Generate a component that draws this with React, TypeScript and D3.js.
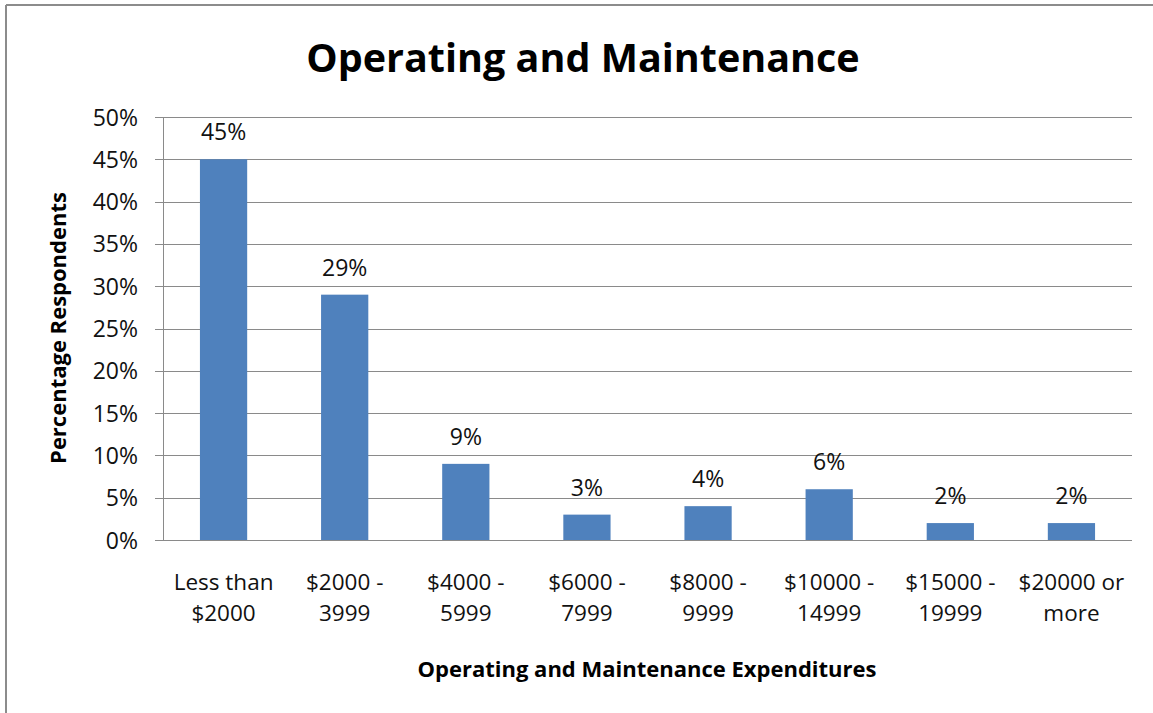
import React from "react";
import * as d3 from "d3";

const categories: string[][] = [
  ["Less than", "$2000"],
  ["$2000 -", "3999"],
  ["$4000 -", "5999"],
  ["$6000 -", "7999"],
  ["$8000 -", "9999"],
  ["$10000 -", "14999"],
  ["$15000 -", "19999"],
  ["$20000 or", "more"],
];
const values: number[] = [45, 29, 9, 3, 4, 6, 2, 2];
const yTicks: number[] = [0, 5, 10, 15, 20, 25, 30, 35, 40, 45, 50];

const W = 1153;
const H = 713;
const plot = { left: 163, right: 1132, top: 117, bottom: 540 };
const FONT = "'Open Sans', 'Noto Sans', sans-serif";

export default function App() {
  const x = d3
    .scaleBand<number>()
    .domain(d3.range(categories.length))
    .range([plot.left, plot.right])
    .paddingInner(0.61)
    .paddingOuter(0.305);
  const y = d3.scaleLinear().domain([0, 50]).range([plot.bottom, plot.top]);
  const step = (plot.right - plot.left) / categories.length;

  return (
    <svg
      width={W}
      height={H}
      style={{ position: "absolute", left: 0, top: 0, background: "#fff" }}
      fontFamily={FONT}
    >
      <rect x={0} y={0} width={W} height={H} fill="#fff" />
      {/* outer frame */}
      <line x1={6} y1={5} x2={W + 5} y2={5} stroke="#8c8c8c" strokeWidth={2} />
      <line x1={6} y1={5} x2={6} y2={H + 5} stroke="#8c8c8c" strokeWidth={2} />

      {/* title */}
      <text
        x={583}
        y={72}
        textAnchor="middle"
        fontSize={39.5}
        fontWeight="bold"
        fill="#000"
      >
        Operating and Maintenance
      </text>

      {/* gridlines and y ticks */}
      {yTicks.map((t) => (
        <g key={t}>
          <line
            x1={plot.left - 8}
            x2={plot.right}
            y1={Math.round(y(t)) + 0.5}
            y2={Math.round(y(t)) + 0.5}
            stroke="#8a8a8a"
            strokeWidth={1}
          />
          <text
            x={138}
            y={y(t) + 8.5}
            textAnchor="end"
            fontSize={23}
            fill="#111"
          >
            {t}%
          </text>
        </g>
      ))}
      {/* y axis line */}
      <line
        x1={plot.left + 0.5}
        x2={plot.left + 0.5}
        y1={plot.top}
        y2={plot.bottom}
        stroke="#8a8a8a"
        strokeWidth={1}
      />

      {/* bars */}
      {values.map((v, i) => (
        <rect
          key={i}
          x={x(i)}
          y={y(v)}
          width={x.bandwidth()}
          height={y(0) - y(v)}
          fill="#4F81BD"
        />
      ))}
      {/* x axis line over bars */}
      <line
        x1={plot.left}
        x2={plot.right}
        y1={plot.bottom + 0.5}
        y2={plot.bottom + 0.5}
        stroke="#8a8a8a"
        strokeWidth={1}
      />

      {/* data labels */}
      {values.map((v, i) => (
        <text
          key={i}
          x={(x(i) as number) + x.bandwidth() / 2}
          y={y(v) - 19}
          textAnchor="middle"
          fontSize={23}
          fill="#111"
        >
          {v}%
        </text>
      ))}

      {/* category labels */}
      {categories.map((c, i) => (
        <text
          key={i}
          x={plot.left + step * (i + 0.5)}
          textAnchor="middle"
          fontSize={22.5}
          fill="#111"
        >
          <tspan x={plot.left + step * (i + 0.5)} y={590}>
            {c[0]}
          </tspan>
          <tspan x={plot.left + step * (i + 0.5)} y={621}>
            {c[1]}
          </tspan>
        </text>
      ))}

      {/* axis titles */}
      <text
        x={647}
        y={677}
        textAnchor="middle"
        fontSize={22}
        fontWeight="bold"
        fill="#000"
      >
        Operating and Maintenance Expenditures
      </text>
      <text
        transform={`translate(66, 328) rotate(-90)`}
        textAnchor="middle"
        fontSize={22}
        fontWeight="bold"
        fill="#000"
      >
        Percentage Respondents
      </text>
    </svg>
  );
}
